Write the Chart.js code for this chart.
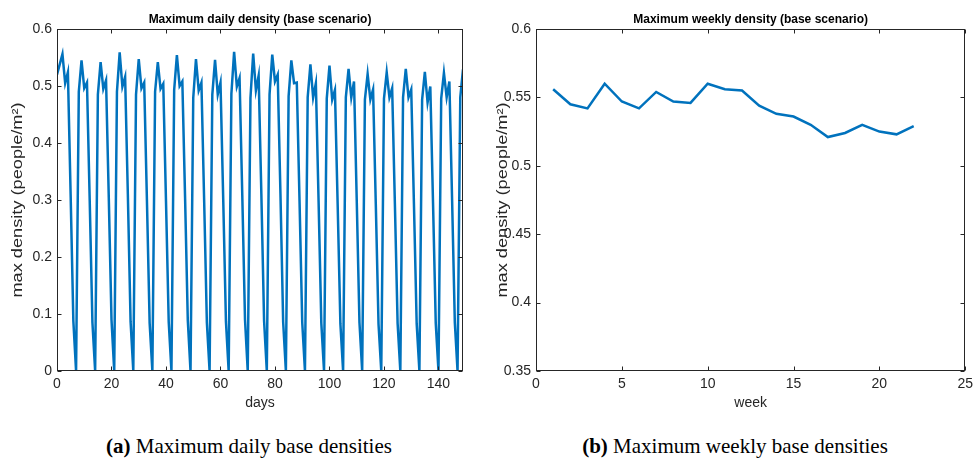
<!DOCTYPE html>
<html>
<head>
<meta charset="utf-8">
<script src="https://cdn.jsdelivr.net/npm/chart.js@4.4.0/dist/chart.umd.min.js"></script>
<style>
  html, body { margin: 0; padding: 0; background: #fff; }
  #wrap { position: relative; width: 978px; height: 462px; overflow: hidden; }
  .box { position: absolute; top: 0; height: 420px; }
  #boxA { left: 0; width: 490px; }
  #boxB { left: 490px; width: 488px; }
  .cap { position: absolute; top: 434px; font-family: "Liberation Serif", serif; font-size: 21px;
         color: #000; white-space: nowrap; transform: translateX(-50%); }
</style>
</head>
<body>
<div id="wrap">
  <div class="box" id="boxA"><canvas id="dailyChart" width="490" height="420"></canvas></div>
  <div class="box" id="boxB"><canvas id="weeklyChart" width="488" height="420"></canvas></div>
  <div class="cap" style="left:249px"><b>(a)</b> Maximum daily base densities</div>
  <div class="cap" style="left:735px"><b>(b)</b> Maximum weekly base densities</div>
</div>
<script>
// max density per day (people/m2), day 0 .. 149, one row per week
const dailyDensity = [
  0.520, 0.538, 0.556, 0.505, 0.524, 0.310, 0.088,
  0.000, 0.490, 0.545, 0.496, 0.506, 0.300, 0.085,
  0.000, 0.485, 0.542, 0.495, 0.510, 0.305, 0.090,
  0.000, 0.490, 0.559, 0.499, 0.516, 0.310, 0.087,
  0.000, 0.485, 0.547, 0.496, 0.506, 0.300, 0.084,
  0.000, 0.490, 0.542, 0.495, 0.504, 0.298, 0.086,
  0.000, 0.493, 0.554, 0.500, 0.508, 0.305, 0.089,
  0.000, 0.479, 0.547, 0.492, 0.506, 0.300, 0.085,
  0.000, 0.485, 0.546, 0.485, 0.506, 0.302, 0.087,
  0.000, 0.486, 0.560, 0.499, 0.514, 0.308, 0.090,
  0.000, 0.479, 0.557, 0.492, 0.518, 0.310, 0.088,
  0.000, 0.485, 0.555, 0.508, 0.520, 0.312, 0.086,
  0.000, 0.482, 0.545, 0.505, 0.506, 0.300, 0.085,
  0.000, 0.480, 0.538, 0.480, 0.505, 0.298, 0.084,
  0.000, 0.478, 0.536, 0.476, 0.493, 0.292, 0.083,
  0.000, 0.480, 0.530, 0.480, 0.508, 0.300, 0.085,
  0.000, 0.476, 0.521, 0.476, 0.494, 0.292, 0.082,
  0.000, 0.478, 0.524, 0.480, 0.496, 0.294, 0.084,
  0.000, 0.480, 0.530, 0.480, 0.494, 0.292, 0.083,
  0.000, 0.476, 0.525, 0.471, 0.499, 0.295, 0.084,
  0.000, 0.478, 0.523, 0.480, 0.508, 0.300, 0.085,
  0.000, 0.480, 0.529
];

// max density per week, week 1 .. 22
const weeks = [1, 2, 3, 4, 5, 6, 7, 8, 9, 10, 11, 12, 13, 14, 15, 16, 17, 18, 19, 20, 21, 22];
const weeklyDensity = [
  0.556, 0.545, 0.542, 0.560, 0.547, 0.542, 0.554, 0.547, 0.546, 0.560, 0.556,
  0.555, 0.544, 0.538, 0.536, 0.530, 0.521, 0.524, 0.530, 0.525, 0.523, 0.529
];

const dayTicks = [0, 20, 40, 60, 80, 100, 120, 140];
const dailyYTicks = [0, 0.1, 0.2, 0.3, 0.4, 0.5, 0.6];
const weekTicks = [0, 5, 10, 15, 20, 25];
const weeklyYTicks = [0.35, 0.4, 0.45, 0.5, 0.55, 0.6];

const yLabel = 'max density (people/m\u00B2)';

const lineColor = '#0072BD';
const axisColor = '#262626';
const fontFamily = '"Liberation Sans", Arial, sans-serif';

// box round the axes with inward ticks, title over the axes, stretched y label
const matlabBox = {
  id: 'matlabBox',
  afterDraw(chart, args, o) {
    const { ctx, chartArea: a, scales } = chart;
    const L = Math.round(a.left) + 0.5, R = Math.round(a.right) - 0.5;
    const T = Math.round(a.top) + 0.5, B = Math.round(a.bottom) - 0.5;
    ctx.save();
    ctx.strokeStyle = axisColor;
    ctx.lineWidth = 1;
    ctx.strokeRect(L, T, R - L, B - T);
    ctx.beginPath();
    scales.x.ticks.forEach(t => {
      const px = Math.round(scales.x.getPixelForValue(t.value)) + 0.5;
      ctx.moveTo(px, B); ctx.lineTo(px, B - 4);
      ctx.moveTo(px, T); ctx.lineTo(px, T + 4);
    });
    scales.y.ticks.forEach(t => {
      const py = Math.round(scales.y.getPixelForValue(t.value)) + 0.5;
      ctx.moveTo(L, py); ctx.lineTo(L + 4, py);
      ctx.moveTo(R, py); ctx.lineTo(R - 4, py);
    });
    ctx.stroke();

    // title
    ctx.fillStyle = '#000';
    ctx.font = 'bold 12px ' + fontFamily;
    ctx.textAlign = 'center';
    ctx.textBaseline = 'middle';
    ctx.fillText(o.title, (a.left + a.right) / 2, 20);

    // y axis label, a bit stretched along its length
    ctx.fillStyle = axisColor;
    ctx.font = '14px ' + fontFamily;
    ctx.translate(o.yLabelX, (a.top + a.bottom) / 2);
    ctx.rotate(-Math.PI / 2);
    ctx.scale(1.3, 1);
    ctx.fillText(yLabel, 0, 0);
    ctx.restore();
  }
};

function fmt(v) {
  return String(+Number(v).toFixed(2));
}

function makeChart(id, opts) {
  const ctx = document.getElementById(id).getContext('2d');
  return new Chart(ctx, {
    type: 'line',
    data: {
      datasets: [{
        data: opts.points,
        borderColor: lineColor,
        borderWidth: 2.5,
        pointRadius: 0,
        tension: 0,
        fill: false
      }]
    },
    options: {
      responsive: false,
      animation: false,
      layout: { padding: { top: 29, right: opts.padRight, bottom: 0, left: 0 } },
      plugins: {
        legend: { display: false },
        tooltip: { enabled: false },
        title: { display: false },
        matlabBox: { title: opts.title, yLabelX: opts.yLabelX }
      },
      scales: {
        x: {
          type: 'linear',
          min: opts.xMin,
          max: opts.xMax,
          afterBuildTicks: s => { s.ticks = opts.xTicks.map(v => ({ value: v })); },
          afterFit: s => { s.height = 49; },
          grid: { display: false, drawTicks: false },
          border: { display: false },
          ticks: { color: axisColor, font: { family: fontFamily, size: 14 }, padding: 5, maxRotation: 0, callback: fmt },
          title: { display: true, text: opts.xTitle, color: axisColor, font: { family: fontFamily, size: 14 }, padding: { top: 0, bottom: 8 } }
        },
        y: {
          type: 'linear',
          min: opts.yMin,
          max: opts.yMax,
          afterBuildTicks: s => { s.ticks = opts.yTicks.map(v => ({ value: v })); },
          afterFit: s => { s.width = opts.yWidth; },
          grid: { display: false, drawTicks: false },
          border: { display: false },
          ticks: { color: axisColor, font: { family: fontFamily, size: 14 }, padding: 5, callback: fmt },
          title: { display: false }
        }
      }
    },
    plugins: [matlabBox]
  });
}

makeChart('dailyChart', {
  points: dailyDensity.map((v, i) => ({ x: i, y: v })),
  title: 'Maximum daily density (base scenario)',
  xTitle: 'days',
  xMin: 0, xMax: 149, xTicks: dayTicks,
  yMin: 0, yMax: 0.6, yTicks: dailyYTicks,
  yWidth: 57, yLabelX: 18, padRight: 27
});

makeChart('weeklyChart', {
  points: weeklyDensity.map((v, i) => ({ x: weeks[i], y: v })),
  title: 'Maximum weekly density (base scenario)',
  xTitle: 'week',
  xMin: 0, xMax: 25, xTicks: weekTicks,
  yMin: 0.35, yMax: 0.6, yTicks: weeklyYTicks,
  yWidth: 46, yLabelX: 13, padRight: 7
});
</script>
</body>
</html>
